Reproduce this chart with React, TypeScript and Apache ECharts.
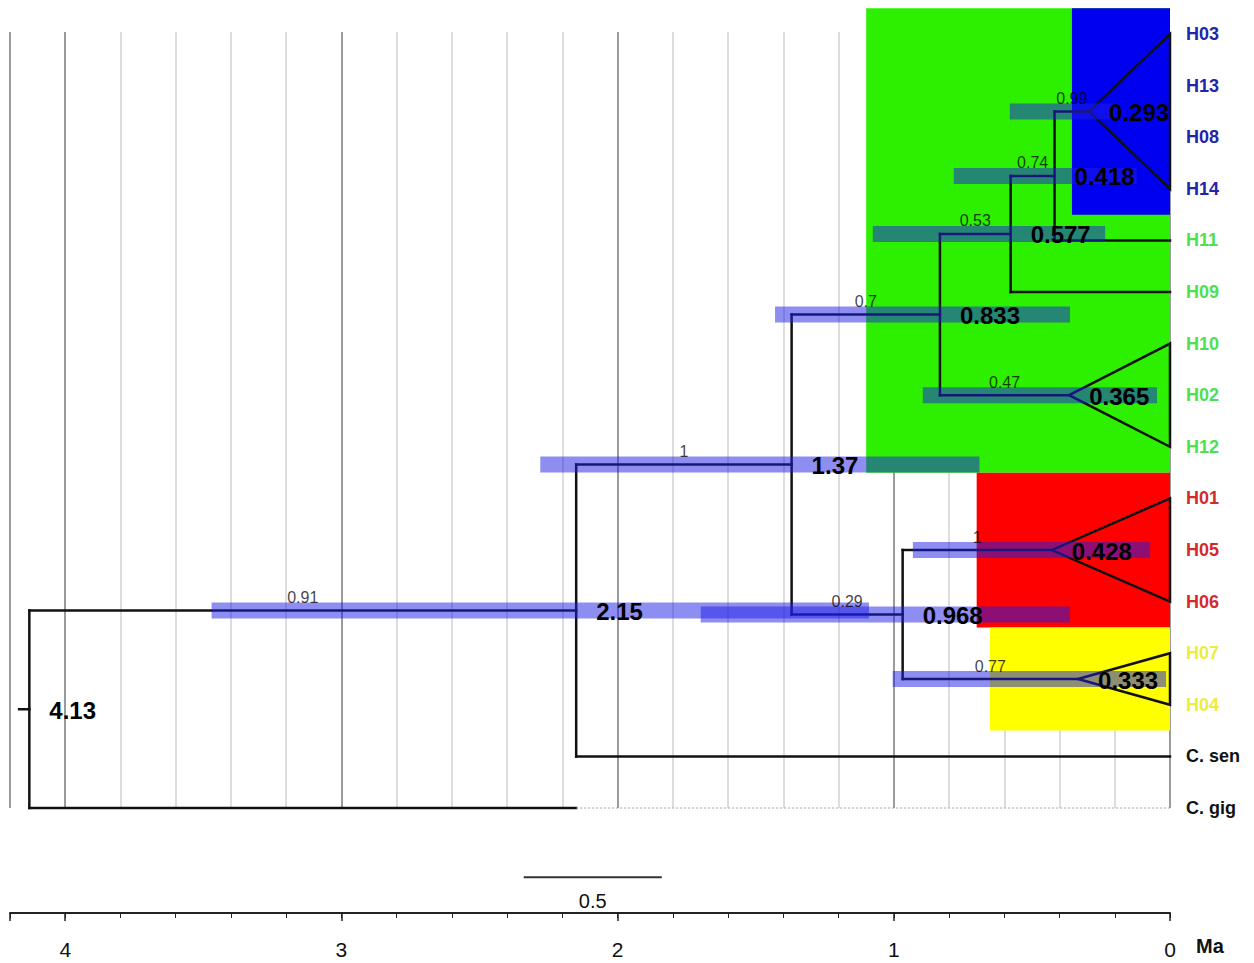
import React, { useEffect, useRef } from 'react';
import * as echarts from 'echarts';

// ---------- DATA ----------
const tipNames = ['H03', 'H13', 'H08', 'H14', 'H11', 'H09', 'H10', 'H02', 'H12', 'H01', 'H05', 'H06', 'H07', 'H04', 'C. sen', 'C. gig'];
const tipParent = [6, 6, 6, 6, 5, 4, 7, 7, 7, 9, 9, 9, 10, 10, 1, 0];
const tipGroup = ['blue', 'blue', 'blue', 'blue', 'green', 'green', 'green', 'green', 'green', 'red', 'red', 'red', 'yellow', 'yellow', 'out', 'out'];

const nodeAges = [4.13, 2.15, 1.37, 0.833, 0.577, 0.418, 0.293, 0.365, 0.968, 0.428, 0.333];
const nodeAgeLabels = ['4.13', '2.15', '1.37', '0.833', '0.577', '0.418', '0.293', '0.365', '0.968', '0.428', '0.333'];
const nodeParent = [-1, 0, 1, 2, 3, 4, 5, 3, 2, 8, 8];
const nodeCollapsed = [false, false, false, false, false, false, true, true, false, true, true];
const nodePosterior = ['', '0.91', '1', '0.7', '0.53', '0.74', '0.99', '0.47', '0.29', '1', '0.77'];
const hpdLower = [NaN, 1.09, 0.69, 0.362, 0.235, 0.12, 0.2, 0.047, 0.362, 0.072, 0.014];
const hpdUpper = [NaN, 3.47, 2.28, 1.43, 1.076, 0.783, 0.58, 0.895, 1.699, 0.931, 1.004];

const rootStubAge = 4.167;
const outgroupIndex = 15;
const outgroupSolidEnd = 2.15;

const cladeBoxGroup = ['green', 'blue', 'red', 'yellow'];
const cladeBoxStart = [1.1, 0.355, 0.7, 0.652];
const cladeBoxRowFrom = [-0.5, -0.5, 8.5, 11.5];
const cladeBoxRowTo = [8.5, 3.5, 11.5, 13.5];

const axisTickLabels = ['0', '1', '2', '3', '4'];
const scaleBarStart = 2.34;
const scaleBarLength = 0.5;
const scaleBarRow = 16.34;

// ---------- STYLE ----------
const boxColors: Record<string, string> = { green: '#2cf000', blue: '#0000f0', red: '#ff0000', yellow: '#ffff00' };
const tipColors: Record<string, string> = { blue: '#2424a8', green: '#4ee04e', red: '#d42a2a', yellow: '#ecec3c', out: '#111111' };
const FONT = '"Liberation Sans", Arial, sans-serif';
const NARROW = '"Liberation Sans Narrow", "Liberation Sans", Arial, sans-serif';

// ---------- TREE LAYOUT ----------
const nodeRow: number[] = nodeAges.map(() => 0);
const childMin: number[] = nodeAges.map(() => 0);
const childMax: number[] = nodeAges.map(() => 0);
function layout(i: number): number {
  const rows: number[] = [];
  nodeParent.forEach((p, j) => { if (p === i) rows.push(layout(j)); });
  tipParent.forEach((p, t) => { if (p === i) rows.push(t); });
  childMin[i] = Math.min(...rows);
  childMax[i] = Math.max(...rows);
  nodeRow[i] = (childMin[i] + childMax[i]) / 2;
  return nodeRow[i];
}
layout(0);

const segments: number[][] = [];
segments.push([rootStubAge, nodeRow[0], nodeAges[0], nodeRow[0], 0]);
for (let i = 1; i < nodeAges.length; i++) {
  segments.push([nodeAges[nodeParent[i]], nodeRow[i], nodeAges[i], nodeRow[i], 0]);
}
for (let i = 0; i < nodeAges.length; i++) {
  if (!nodeCollapsed[i]) segments.push([nodeAges[i], childMin[i], nodeAges[i], childMax[i], 0]);
}
tipParent.forEach((p, t) => {
  if (nodeCollapsed[p]) return;
  if (t === outgroupIndex) {
    segments.push([nodeAges[p], t, outgroupSolidEnd, t, 0]);
    segments.push([outgroupSolidEnd, t, 0, t, 1]);
  } else {
    segments.push([nodeAges[p], t, 0, t, 0]);
  }
});

const triangles: number[][] = [];
nodeAges.forEach((a, i) => { if (nodeCollapsed[i]) triangles.push([a, nodeRow[i], childMin[i], childMax[i]]); });

const bars: number[][] = [];
const postLabels: any[] = [];
for (let i = 1; i < nodeAges.length; i++) {
  bars.push([hpdUpper[i], hpdLower[i], nodeRow[i]]);
  postLabels.push([(nodeAges[nodeParent[i]] + nodeAges[i]) / 2, nodeRow[i], nodePosterior[i]]);
}
const ageLabels = nodeAges.map((a, i) => [a, nodeRow[i], nodeAgeLabels[i]]);
const tipLabels = tipNames.map((n, t) => [0, t, n, tipGroup[t]]);
const boxes = cladeBoxGroup.map((g, i) => [cladeBoxStart[i], cladeBoxRowFrom[i], 0, cladeBoxRowTo[i], g]);

export default function App() {
  const ref = useRef<HTMLDivElement>(null);
  useEffect(() => {
    const chart = echarts.init(ref.current!, null, { renderer: 'svg' });
    const baseX = {
      type: 'value', min: 0, max: 4.2, inverse: true, position: 'bottom', offset: 105,
    };
    const option: any = {
      animation: false,
      backgroundColor: '#ffffff',
      grid: { left: 10, right: 84, top: 32, bottom: 155 },
      xAxis: [
        {
          ...baseX, interval: 0.2,
          axisLine: { show: true, onZero: false, lineStyle: { color: '#222', width: 2 } },
          axisTick: { show: true, length: 5, inside: false, lineStyle: { color: '#222', width: 1 } },
          axisLabel: { show: false },
          splitLine: { show: true, lineStyle: { color: '#d2d2d2', width: 1.5 } },
        },
        {
          ...baseX, interval: 1,
          axisLine: { show: false, onZero: false },
          axisTick: { show: true, length: 8, inside: false, lineStyle: { color: '#222', width: 1.5 } },
          axisLabel: {
            show: true, margin: 26, fontSize: 21, color: '#111', fontFamily: NARROW,
            formatter: (v: number) => (Math.abs(v - Math.round(v)) < 1e-6 ? axisTickLabels[Math.round(v)] ?? '' : ''),
          },
          splitLine: { show: true, lineStyle: { color: '#858585', width: 1.5 } },
        },
      ],
      yAxis: { type: 'value', min: -0.04, max: 15, inverse: true, show: false, splitLine: { show: false } },
      graphic: [
        { type: 'text', left: 1196, top: 936, style: { text: 'Ma', font: `bold 20px ${FONT}`, fill: '#111' } },
      ],
      series: [
        {
          type: 'custom', z: 1, clip: false, data: boxes,
          encode: { x: [0, 2], y: [1, 3] },
          renderItem: (params: any, api: any) => {
            const d = boxes[params.dataIndex];
            const p1 = api.coord([d[0], d[1]]);
            const p2 = api.coord([d[2], d[3]]);
            return { type: 'rect', shape: { x: p1[0], y: p1[1], width: p2[0] - p1[0], height: p2[1] - p1[1] }, style: { fill: boxColors[d[4] as string] } };
          },
        },
        {
          type: 'custom', z: 3, clip: false, data: segments,
          encode: { x: [0, 2], y: [1, 3] },
          renderItem: (params: any, api: any) => {
            const d = segments[params.dataIndex];
            const p1 = api.coord([d[0], d[1]]);
            const p2 = api.coord([d[2], d[3]]);
            const dotted = d[4] === 1;
            return {
              type: 'line',
              shape: { x1: p1[0], y1: p1[1], x2: p2[0], y2: p2[1] },
              style: { stroke: dotted ? '#a0a0a0' : '#111', lineWidth: dotted ? 1 : 2.5, lineDash: dotted ? [2, 2] : null, lineCap: dotted ? 'butt' : 'square' },
            };
          },
        },
        {
          type: 'custom', z: 3, clip: false, data: triangles,
          encode: { x: 0, y: [1, 2, 3] },
          renderItem: (params: any, api: any) => {
            const d = triangles[params.dataIndex];
            const a = api.coord([d[0], d[1]]);
            const b = api.coord([0, d[2]]);
            const c = api.coord([0, d[3]]);
            return { type: 'polygon', shape: { points: [a, b, c] }, style: { fill: 'none', stroke: '#111', lineWidth: 2.5, lineJoin: 'miter' } };
          },
        },
        {
          type: 'custom', z: 4, clip: false, data: bars,
          encode: { x: [0, 1], y: 2 },
          renderItem: (params: any, api: any) => {
            const d = bars[params.dataIndex];
            const p1 = api.coord([d[0], d[2]]);
            const p2 = api.coord([d[1], d[2]]);
            return { type: 'rect', shape: { x: p1[0], y: p1[1] - 8, width: p2[0] - p1[0], height: 16 }, style: { fill: 'rgba(30,30,230,0.5)' } };
          },
        },
        {
          type: 'custom', z: 5, clip: false, data: postLabels,
          encode: { x: 0, y: 1 },
          renderItem: (params: any, api: any) => {
            const d = postLabels[params.dataIndex];
            const p = api.coord([d[0], d[1]]);
            return { type: 'text', x: p[0], y: p[1] - 13, style: { text: d[2], font: `16px ${FONT}`, fill: 'rgba(0,0,0,0.75)', align: 'center', verticalAlign: 'middle' } };
          },
        },
        {
          type: 'custom', z: 6, clip: false, data: ageLabels,
          encode: { x: 0, y: 1 },
          renderItem: (params: any, api: any) => {
            const d = ageLabels[params.dataIndex];
            const p = api.coord([d[0], d[1]]);
            return { type: 'text', x: p[0] + 20, y: p[1] + 1, style: { text: d[2], font: `bold 24px ${FONT}`, fill: '#000', align: 'left', verticalAlign: 'middle' } };
          },
        },
        {
          type: 'custom', z: 6, clip: false, data: tipLabels,
          encode: { x: 0, y: 1 },
          renderItem: (params: any, api: any) => {
            const d = tipLabels[params.dataIndex];
            const p = api.coord([d[0], d[1]]);
            return { type: 'text', x: p[0] + 16, y: p[1], style: { text: d[2], font: `bold 18px ${FONT}`, fill: tipColors[d[3] as string], align: 'left', verticalAlign: 'middle' } };
          },
        },
        {
          type: 'custom', z: 6, clip: false, data: [[scaleBarStart, scaleBarStart - scaleBarLength, scaleBarRow]],
          encode: { x: [0, 1], y: 2 },
          renderItem: (params: any, api: any) => {
            const p1 = api.coord([api.value(0), api.value(2)]);
            const p2 = api.coord([api.value(1), api.value(2)]);
            return {
              type: 'group',
              children: [
                { type: 'line', shape: { x1: p1[0], y1: p1[1], x2: p2[0], y2: p2[1] }, style: { stroke: '#333', lineWidth: 2 } },
                { type: 'text', x: (p1[0] + p2[0]) / 2, y: p1[1] + 24, style: { text: String(scaleBarLength), font: `20px ${NARROW}`, fill: '#111', align: 'center', verticalAlign: 'middle' } },
              ],
            };
          },
        },
      ],
    };
    chart.setOption(option);
    return () => chart.dispose();
  }, []);
  return <div ref={ref} style={{ position: 'absolute', left: 0, top: 0, width: 1254, height: 963, background: '#fff' }} />;
}
